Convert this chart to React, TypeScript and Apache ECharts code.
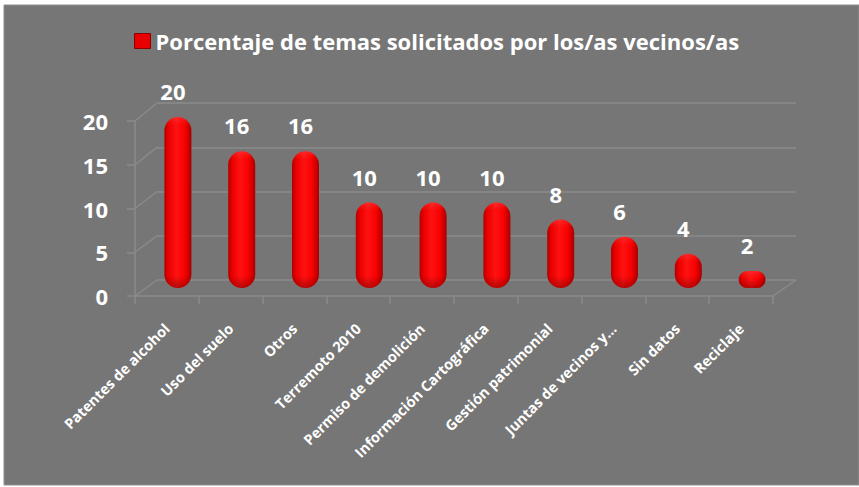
import React, { useEffect, useRef } from "react";
import * as echarts from "echarts";

const categories = [
  "Patentes de alcohol",
  "Uso del suelo",
  "Otros",
  "Terremoto 2010",
  "Permiso de demolición",
  "Información Cartográfica",
  "Gestión patrimonial",
  "Juntas de vecinos y…",
  "Sin datos",
  "Reciclaje",
];
const values = [20, 16, 16, 10, 10, 10, 8, 6, 4, 2];
const yTicks = [0, 5, 10, 15, 20];
const seriesName = "Porcentaje de temas solicitados por los/as vecinos/as";

const W = 859;
const H = 487;
const FONT = "'Open Sans', Lato, sans-serif";
const GRID_COLOR = "#8b8b8b";

const gridFront = { left: 135, right: 86, top: 121, bottom: 191 };
const gridBack = { left: 157, right: 63, top: 103, bottom: 207 };
const gridBars = { left: 146, right: 75, top: 117, bottom: 199 };

export default function App() {
  const ref = useRef<HTMLDivElement>(null);

  useEffect(() => {
    if (!ref.current) return;
    const chart = echarts.init(ref.current, undefined, { renderer: "svg" });

    const barGradient = new echarts.graphic.LinearGradient(0, 0, 1, 0, [
      { offset: 0, color: "#b00000" },
      { offset: 0.15, color: "#ea0000" },
      { offset: 0.45, color: "#ff1212" },
      { offset: 0.75, color: "#f80000" },
      { offset: 1, color: "#a80000" },
    ]);

    const option: any = {
      animation: false,
      backgroundColor: "#ffffff",
      legend: {
        show: true,
        left: 134,
        top: 30,
        padding: 0,
        icon: "rect",
        itemWidth: 16,
        itemHeight: 15,
        textStyle: { color: "#ffffff", fontFamily: FONT, fontWeight: "bold", fontSize: 22 },
        data: [
          {
            name: seriesName,
            itemStyle: { color: "#e80000", borderColor: "#8a0000", borderWidth: 1 },
          },
        ],
      },
      grid: [
        { ...gridFront },
        { ...gridBack },
        { ...gridBars },
      ],
      xAxis: [
        {
          type: "category",
          gridIndex: 0,
          data: categories,
          boundaryGap: true,
          axisLine: { show: true, lineStyle: { color: GRID_COLOR, width: 1.5 } },
          axisTick: { show: true, length: 8, lineStyle: { color: GRID_COLOR, width: 1.5 } },
          axisLabel: {
            interval: 0,
            rotate: 45,
            margin: 30,
            color: "#ffffff",
            fontFamily: FONT,
            fontWeight: "bold",
            fontSize: 14.5,
          },
          splitLine: { show: false },
        },
        {
          type: "category",
          gridIndex: 1,
          data: categories,
          show: false,
        },
        {
          type: "category",
          gridIndex: 2,
          data: categories,
          show: false,
        },
      ],
      yAxis: [
        {
          type: "value",
          gridIndex: 0,
          min: 0,
          max: 20,
          interval: 5,
          axisLine: { show: true, lineStyle: { color: GRID_COLOR, width: 1.5 } },
          axisTick: { show: true, length: 8, lineStyle: { color: GRID_COLOR, width: 1.5 } },
          axisLabel: {
            margin: 27,
            color: "#ffffff",
            fontFamily: FONT,
            fontWeight: "bold",
            fontSize: 22,
          },
          splitLine: { show: false },
        },
        {
          type: "value",
          gridIndex: 1,
          min: 0,
          max: 20,
          interval: 5,
          axisLine: { show: false },
          axisTick: { show: false },
          axisLabel: { show: false },
          splitLine: { show: true, lineStyle: { color: GRID_COLOR, width: 1.5 } },
        },
        {
          type: "value",
          gridIndex: 2,
          min: 0,
          max: 20,
          show: false,
          splitLine: { show: false },
        },
      ],
      series: [
        {
          name: seriesName,
          type: "custom",
          xAxisIndex: 2,
          yAxisIndex: 2,
          itemStyle: { color: "#ff0000" },
          encode: { x: 0, y: 1 },
          data: values.map((v, i) => [i, v]),
          renderItem: (params: any, api: any) => {
            const i = api.value(0);
            const v = api.value(1);
            const base = api.coord([i, 0]);
            const top = api.coord([i, v]);
            const w = 27;
            const h = base[1] - top[1];
            const r = Math.min(w / 2, h / 2);
            const shadeStart = Math.max(0, 1 - 12 / h);
            const shade = new echarts.graphic.LinearGradient(0, 0, 0, 1, [
              { offset: 0, color: "rgba(255,120,120,0.25)" },
              { offset: Math.min(0.5, 8 / h), color: "rgba(255,80,80,0)" },
              { offset: shadeStart, color: "rgba(90,0,0,0)" },
              { offset: 1, color: "rgba(90,0,0,0.45)" },
            ]);
            return {
              type: "group",
              children: [
                {
                  type: "rect",
                  shape: { x: base[0] - w / 2, y: top[1], width: w, height: h, r },
                  style: { fill: barGradient },
                },
                {
                  type: "rect",
                  shape: { x: base[0] - w / 2, y: top[1], width: w, height: h, r },
                  style: { fill: shade },
                },
                {
                  type: "text",
                  x: base[0] - 5,
                  y: top[1] - 26,
                  style: {
                    text: String(v),
                    fill: "#ffffff",
                    font: `bold 22px ${FONT}`,
                    align: "center",
                    verticalAlign: "middle",
                  },
                },
              ],
            };
          },
        },
      ],
      graphic: [
        {
          type: "rect",
          z: -100,
          silent: true,
          shape: { x: 4, y: 5, width: W - 4, height: H - 7 },
          style: { fill: "#767676", stroke: "#8e8e8e", lineWidth: 1 },
        },
      ],
    };

    chart.setOption(option);

    // 3D frame: diagonals joining front axis to back wall gridlines
    const frontLeft = gridFront.left;
    const backLeft = gridBack.left;
    const frontRight = W - gridFront.right;
    const backRight = W - gridBack.right;
    const lines: any[] = [];
    yTicks.forEach((t) => {
      const yf = chart.convertToPixel({ yAxisIndex: 0 } as any, t) as number;
      const yb = chart.convertToPixel({ yAxisIndex: 1 } as any, t) as number;
      lines.push({
        type: "line",
        silent: true,
        shape: { x1: frontLeft, y1: yf, x2: backLeft, y2: yb },
        style: { stroke: GRID_COLOR, lineWidth: 1.5 },
      });
      if (t === 0) {
        lines.push({
          type: "line",
          silent: true,
          shape: { x1: frontRight, y1: yf, x2: backRight, y2: yb },
          style: { stroke: GRID_COLOR, lineWidth: 1.5 },
        });
      }
    });
    chart.setOption({ graphic: [option.graphic[0], ...lines] });

    return () => chart.dispose();
  }, []);

  return (
    <div style={{ position: "fixed", left: 0, top: 0, width: W, height: H, background: "#fff" }}>
      <div ref={ref} style={{ width: W, height: H }} />
    </div>
  );
}
